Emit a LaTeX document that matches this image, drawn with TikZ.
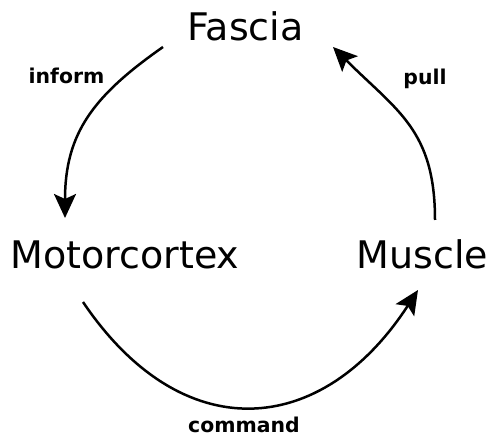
\documentclass[tikz,border=0pt]{standalone}
\usepackage{fontspec}
\setmainfont{DejaVu Sans}
\usetikzlibrary{arrows.meta}
\tikzset{
  part/.style={inner sep=0pt, font=\fontsize{19}{22}\selectfont},
  verb/.style={inner sep=0pt, font=\fontsize{10.2}{12}\selectfont\bfseries},
  flow/.style={line width=1.25pt, -{Stealth[length=12pt, width=11pt, inset=2.5pt]}}
}
\begin{document}
\begin{tikzpicture}[x=0.5pt, y=0.5pt]
  \useasboundingbox (0,0) rectangle (492,439);

  \node[part] (fascia) at (245.5, 413) {Fascia};
  \node[part] (motor) at (125, 184.5) {Motorcortex};
  \node[part] (muscle) at (422.5, 184.5) {Muscle};

  \node[verb] (inform) at (66.5, 363.5) {inform};
  \node[verb] (pull) at (425, 360.5) {pull};
  \node[verb] (command) at (244, 14) {command};

  % arc ends, kept clear of the words
  \coordinate (fascia-out) at (163, 392);
  \coordinate (motor-in) at (65, 221);
  \coordinate (motor-out) at (83, 137);
  \coordinate (muscle-in) at (418, 149);
  \coordinate (muscle-out) at (435, 219);
  \coordinate (fascia-in) at (333, 392);

  \draw[flow] (fascia-out) to[out=215, in=90, looseness=1.1] (motor-in);
  \draw[flow] (motor-out) to[out=-56, in=237, looseness=1.35] (muscle-in);
  \draw[flow] (muscle-out) to[out=90, in=-45, looseness=1.15] (fascia-in);
\end{tikzpicture}
\end{document}
